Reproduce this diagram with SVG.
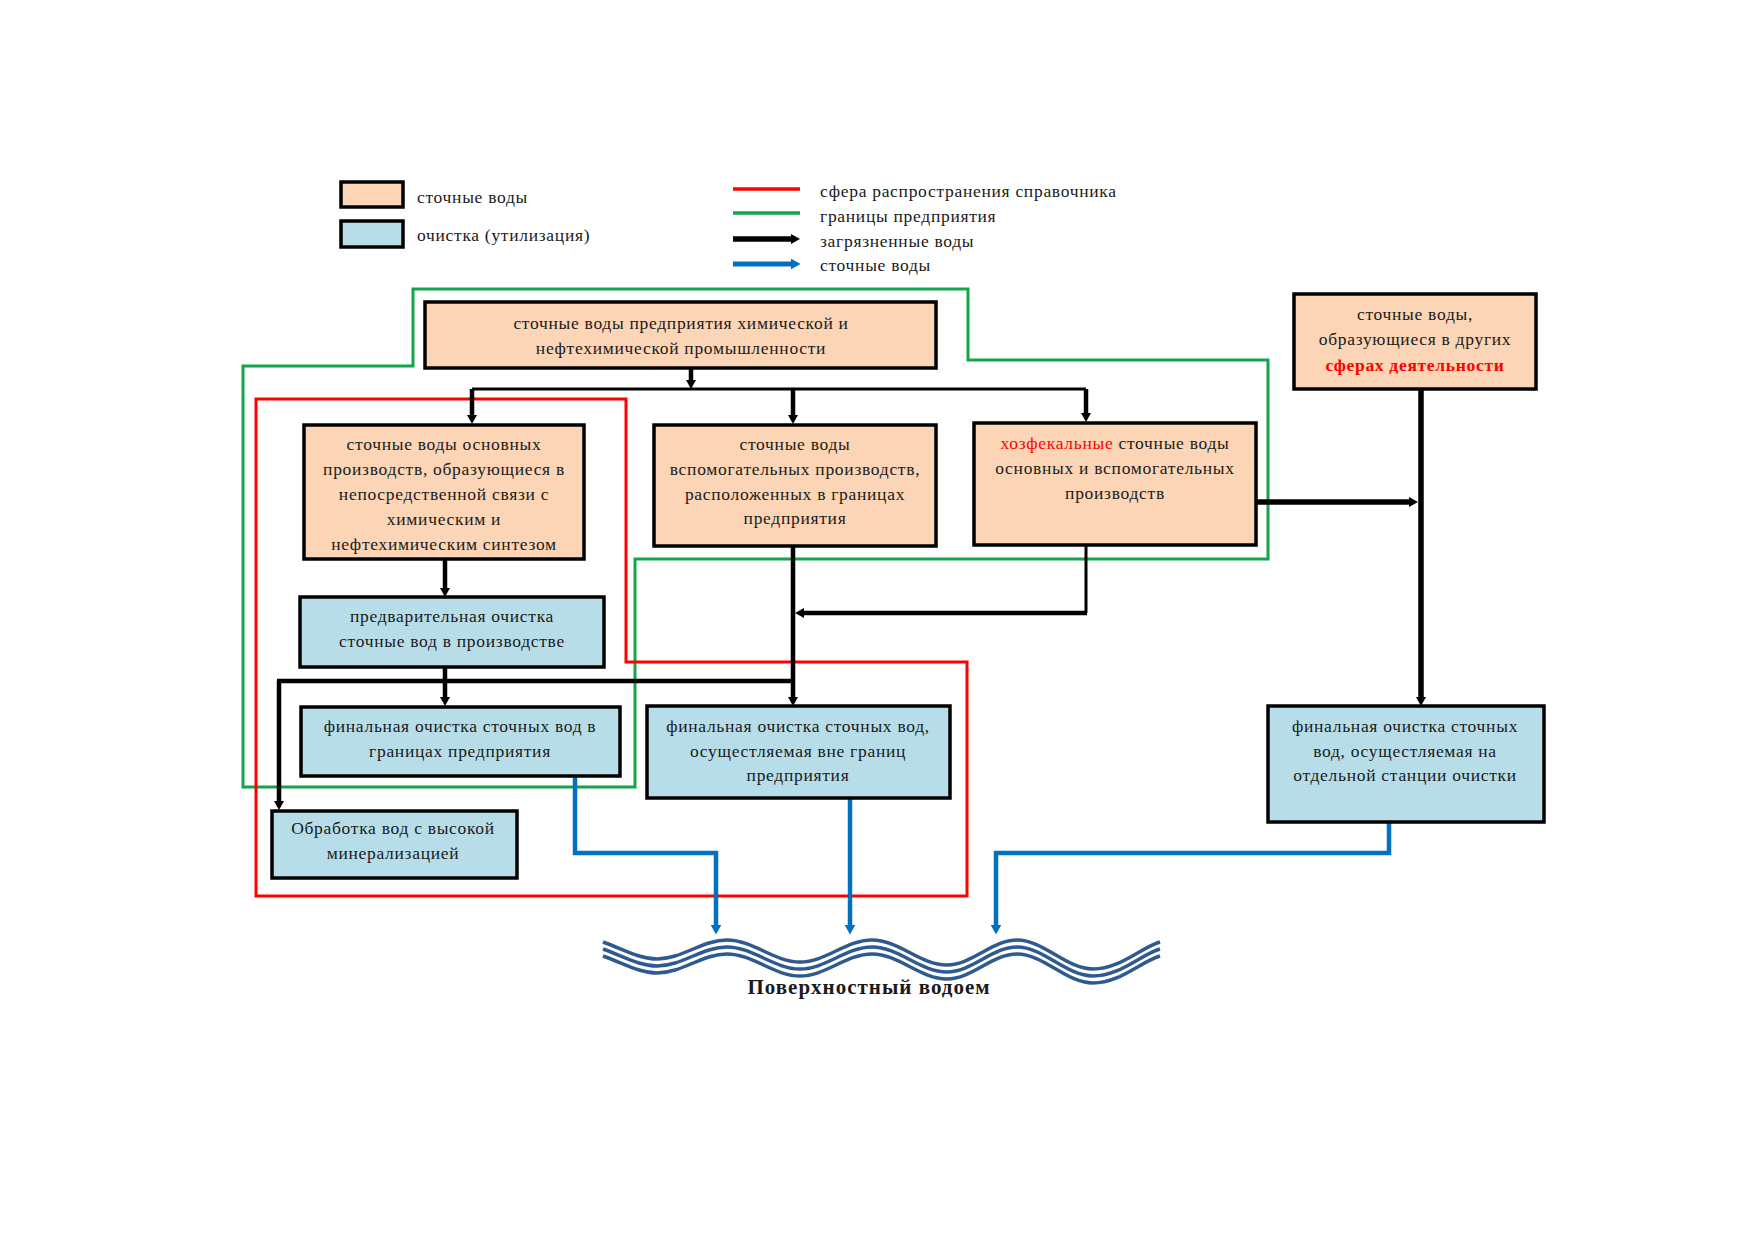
<svg xmlns="http://www.w3.org/2000/svg" xmlns:xlink="http://www.w3.org/1999/xlink" width="1754" height="1241" viewBox="0 0 1754 1241">
<style>
.t{font-family:"Liberation Serif","Times New Roman",serif;font-size:17.5px;letter-spacing:0.7px;fill:#1a1a1a;text-anchor:middle}
.tl{font-family:"Liberation Serif","Times New Roman",serif;font-size:17.5px;letter-spacing:0.7px;fill:#1a1a1a}
.red{fill:#ff0000}
.rb{fill:#ff0000;font-weight:bold}
.ww{fill:#fbd5b5;stroke:#000;stroke-width:3.5}
.cl{fill:#b7dde8;stroke:#000;stroke-width:3.5}
.blk{fill:none;stroke:#000;stroke-width:4.5;marker-end:url(#ab)}
.blkn{fill:none;stroke:#000;stroke-width:3}
.blu{fill:none;stroke:#0070c0;stroke-width:4.5;marker-end:url(#au)}
.wave{fill:none;stroke:#2f5a8f;stroke-width:3.5}
</style>
<defs>
<marker id="ab" markerUnits="userSpaceOnUse" markerWidth="10" markerHeight="10" refX="3" refY="5" orient="auto" viewBox="0 0 10 10"><path d="M0,0 L9,5 L0,10 z" fill="#000"/></marker>
<marker id="au" markerUnits="userSpaceOnUse" markerWidth="11" markerHeight="11" refX="3" refY="5" orient="auto" viewBox="0 0 10 10"><path d="M0,0 L9,5 L0,10 z" fill="#0070c0"/></marker>
<path id="wl" d="M603,942 C625,950 640,959 657,959 C682,959 702,940 727,940 C753,940 774,962 800,962 C826,962 846,940 872,940 C899,940 920,965 947,965 C972,965 992,940 1017,940 C1044,940 1066,969 1093,969 C1120,969 1140,948 1160,942"/>
</defs>
<rect width="1754" height="1241" fill="#fff"/>

<g id="legend">
<rect x="341" y="182" width="62" height="25" class="ww"/>
<rect x="341" y="221" width="62" height="26" class="cl"/>
<text class="tl" x="417" y="203">сточные воды</text>
<text class="tl" x="417" y="241">очистка (утилизация)</text>
<line x1="733" y1="189" x2="800" y2="189" stroke="#ff0000" stroke-width="3.5"/>
<line x1="733" y1="213" x2="800" y2="213" stroke="#14a44d" stroke-width="3.5"/>
<line x1="733" y1="239" x2="794" y2="239" stroke="#000" stroke-width="5.5" marker-end="url(#ab)"/>
<line x1="733" y1="264" x2="794" y2="264" stroke="#0070c0" stroke-width="5" marker-end="url(#au)"/>
<text class="tl" x="820" y="197">сфера распространения справочника</text>
<text class="tl" x="820" y="222">границы предприятия</text>
<text class="tl" x="820" y="247">загрязненные воды</text>
<text class="tl" x="820" y="271">сточные воды</text>
</g>

<g id="boundaries">
<polygon points="413,289 968,289 968,360 1268,360 1268,559 635,559 635,787 243,787 243,366 413,366" fill="none" stroke="#14a44d" stroke-width="3"/>
<polygon points="256,399 626,399 626,662 967,662 967,896 256,896" fill="none" stroke="#ff0000" stroke-width="3"/>
</g>

<g id="connectors">
<path class="blk" d="M691,368 V383"/>
<path class="blkn" d="M472,389 H1086"/>
<path class="blk" d="M472,389 V418"/>
<path class="blk" d="M793,389 V418"/>
<path class="blk" d="M1086,389 V416"/>
<path class="blk" d="M445,559 V591"/>
<path class="blk" d="M793,546 V700"/>
<path class="blkn" d="M1086,545 V613"/>
<path class="blk" d="M1087,613 H801"/>
<path class="blk" d="M445,667 V700"/>
<path class="blkn" d="M277,681 H793" style="stroke-width:4.5"/>
<path class="blk" d="M279,681 V804"/>
<path class="blk" d="M1256,502 H1412" style="stroke-width:5.5"/>
<path class="blk" d="M1421,389 V700" style="stroke-width:5.5"/>
<path class="blu" d="M575,776 V853 H716 V928"/>
<path class="blu" d="M850,798 V928"/>
<path class="blu" d="M1389,822 V853 H996 V928"/>
</g>

<g id="n-top">
<rect x="425" y="302" width="511" height="66" class="ww"/>
<text class="t" x="681" y="329">сточные воды предприятия химической и</text>
<text class="t" x="681" y="354">нефтехимической промышленности</text>
</g>

<g id="n-main">
<rect x="304" y="425" width="280" height="134" class="ww"/>
<text class="t" x="444" y="450">сточные воды основных</text>
<text class="t" x="444" y="475">производств, образующиеся в</text>
<text class="t" x="444" y="500">непосредственной связи с</text>
<text class="t" x="444" y="525">химическим и</text>
<text class="t" x="444" y="550">нефтехимическим синтезом</text>
</g>

<g id="n-aux">
<rect x="654" y="425" width="282" height="121" class="ww"/>
<text class="t" x="795" y="450">сточные воды</text>
<text class="t" x="795" y="475">вспомогательных производств,</text>
<text class="t" x="795" y="500">расположенных в границах</text>
<text class="t" x="795" y="524">предприятия</text>
</g>

<g id="n-domestic">
<rect x="974" y="423" width="282" height="122" class="ww"/>
<text class="t" x="1115" y="449"><tspan class="red">хозфекальные</tspan> сточные воды</text>
<text class="t" x="1115" y="474">основных и вспомогательных</text>
<text class="t" x="1115" y="499">производств</text>
</g>

<g id="n-other">
<rect x="1294" y="294" width="242" height="95" class="ww"/>
<text class="t" x="1415" y="320">сточные воды,</text>
<text class="t" x="1415" y="345">образующиеся в других</text>
<text class="t rb" x="1415" y="371">сферах деятельности</text>
</g>

<g id="n-pre">
<rect x="300" y="597" width="304" height="70" class="cl"/>
<text class="t" x="452" y="622">предварительная очистка</text>
<text class="t" x="452" y="647">сточные вод в производстве</text>
</g>

<g id="n-final-in">
<rect x="301" y="707" width="319" height="69" class="cl"/>
<text class="t" x="460" y="732">финальная очистка сточных вод в</text>
<text class="t" x="460" y="757">границах предприятия</text>
</g>

<g id="n-final-out">
<rect x="647" y="706" width="303" height="92" class="cl"/>
<text class="t" x="798" y="732">финальная очистка сточных вод,</text>
<text class="t" x="798" y="757">осущестляемая вне границ</text>
<text class="t" x="798" y="781">предприятия</text>
</g>

<g id="n-mineral">
<rect x="272" y="811" width="245" height="67" class="cl"/>
<text class="t" x="393" y="834">Обработка вод с высокой</text>
<text class="t" x="393" y="859">минерализацией</text>
</g>

<g id="n-final-sep">
<rect x="1268" y="706" width="276" height="116" class="cl"/>
<text class="t" x="1405" y="732">финальная очистка сточных</text>
<text class="t" x="1405" y="757">вод, осущестляемая на</text>
<text class="t" x="1405" y="781">отдельной станции очистки</text>
</g>

<g id="n-water">
<use xlink:href="#wl" class="wave"/>
<use xlink:href="#wl" class="wave" transform="translate(0,7)"/>
<use xlink:href="#wl" class="wave" transform="translate(0,14)"/>
<text x="869" y="994" style="font-family:'Liberation Serif','Times New Roman',serif;font-size:21px;letter-spacing:1px;font-weight:bold;fill:#1a1a1a;text-anchor:middle">Поверхностный водоем</text>
</g>
</svg>
